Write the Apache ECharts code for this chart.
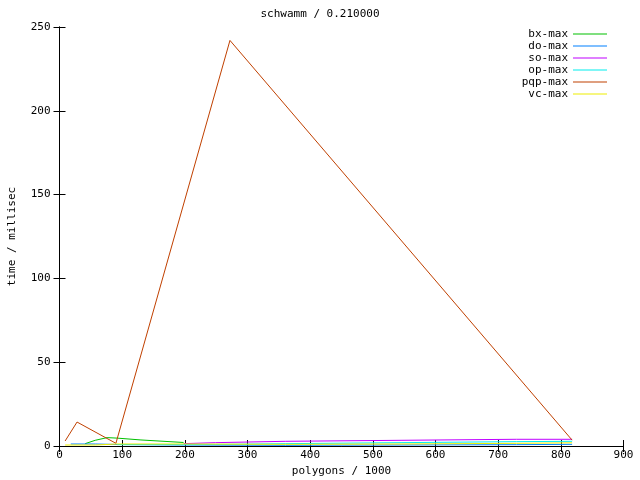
<!DOCTYPE html>
<html><head><meta charset="utf-8">
<script src="https://cdn.jsdelivr.net/npm/echarts@6/dist/echarts.min.js"></script>
<style>html,body{margin:0;padding:0;background:#fff}#c{width:640px;height:480px}</style>
</head><body><div id="c"></div>
<script>
// polygons / 1000 (x) and time / millisec (y), per series
const bxX  = [41, 57, 76, 92, 130, 198];
const bxY  = [1.4, 3.4, 5.0, 4.7, 3.6, 2.1];
const doX  = [18, 57, 92, 198, 361, 545, 729, 818];
const doY  = [1.2, 1.2, 0.9, 0.6, 0.4, 0.6, 0.8, 1.0];
const soX  = [198, 249, 361, 545, 729, 818];
const soY  = [1.4, 2.0, 2.8, 3.4, 4.0, 4.0];
const opX  = [92, 198, 249, 361, 545, 729, 818];
const opY  = [0.8, 0.8, 0.9, 1.4, 2.0, 2.6, 2.8];
const pqpX = [9, 28, 90, 272, 818];
const pqpY = [3.0, 14.3, 1.6, 242, 3.5];
const vcX  = [9, 28, 57, 92, 198, 361, 545, 729, 818];
const vcY  = [0.6, 0.6, 0.6, 1.2, 1.2, 1.0, 1.2, 1.6, 1.9];

const names  = ['bx-max', 'do-max', 'so-max', 'op-max', 'pqp-max', 'vc-max'];
const colors = ['#00c000', '#0080ff', '#c000ff', '#00eeee', '#c04000', '#eeee00'];
const xs = [bxX, doX, soX, opX, pqpX, vcX];
const ys = [bxY, doY, soY, opY, pqpY, vcY];

const xTicks = [0, 900, 100];
const yTicks = [0, 250, 50];
const titleText = 'schwamm / 0.210000';
const xName = 'polygons / 1000';
const yName = 'time / millisec';

const FONT = '"DejaVu Sans Mono", "Liberation Mono", monospace';
const zip = (a, b) => a.map((v, i) => [v, b[i]]);

const axisCommon = {
  type: 'value',
  axisLine: { show: true, lineStyle: { color: '#000', width: 1 } },
  axisTick: { show: true, inside: true, length: 6, lineStyle: { color: '#000' } },
  splitLine: { show: false }
};

const chart = echarts.init(document.getElementById('c'), null, { renderer: 'canvas' });
chart.setOption({
  animation: false,
  backgroundColor: '#fff',
  title: {
    text: titleText, left: 'center', top: 4,
    textStyle: { fontFamily: FONT, fontSize: 11, fontWeight: 'normal', color: '#000' }
  },
  grid: { left: 59.5, right: 16.5, top: 27, bottom: 34, containLabel: false, outerBoundsMode: 'none' },
  legend: {
    orient: 'vertical', right: 28, top: 23, align: 'right',
    icon: 'rect', itemWidth: 34, itemHeight: 1, itemGap: 0,
    formatter: n => n.padStart(7, ' '),
    textStyle: { fontFamily: FONT, fontSize: 11, color: '#000', lineHeight: 12 },
    data: names
  },
  xAxis: [
    Object.assign({}, axisCommon, {
      position: 'bottom', min: xTicks[0], max: xTicks[1], interval: xTicks[2],
      name: xName, nameLocation: 'middle', nameGap: 20,
      nameTextStyle: { fontFamily: FONT, fontSize: 11, color: '#000' },
      axisLabel: { fontFamily: FONT, fontSize: 11, color: '#000', margin: 4 }
    }),
    Object.assign({}, axisCommon, {
      position: 'top', min: xTicks[0], max: xTicks[1], interval: xTicks[2],
      axisLabel: { show: false }
    })
  ],
  yAxis: [
    Object.assign({}, axisCommon, {
      position: 'left', min: yTicks[0], max: yTicks[1], interval: yTicks[2],
      name: yName, nameLocation: 'middle', nameGap: 42,
      nameTextStyle: { fontFamily: FONT, fontSize: 11, color: '#000' },
      axisLabel: { fontFamily: FONT, fontSize: 11, color: '#000', margin: 9 }
    }),
    Object.assign({}, axisCommon, {
      position: 'right', min: yTicks[0], max: yTicks[1], interval: yTicks[2],
      axisLabel: { show: false }
    })
  ],
  series: names.map((n, i) => ({
    name: n, type: 'line', xAxisIndex: 0, yAxisIndex: 0,
    data: zip(xs[i], ys[i]),
    showSymbol: false, symbol: 'none',
    color: colors[i],
    lineStyle: { width: 1, color: colors[i] },
    itemStyle: { color: colors[i] }
  }))
});
</script></body></html>
